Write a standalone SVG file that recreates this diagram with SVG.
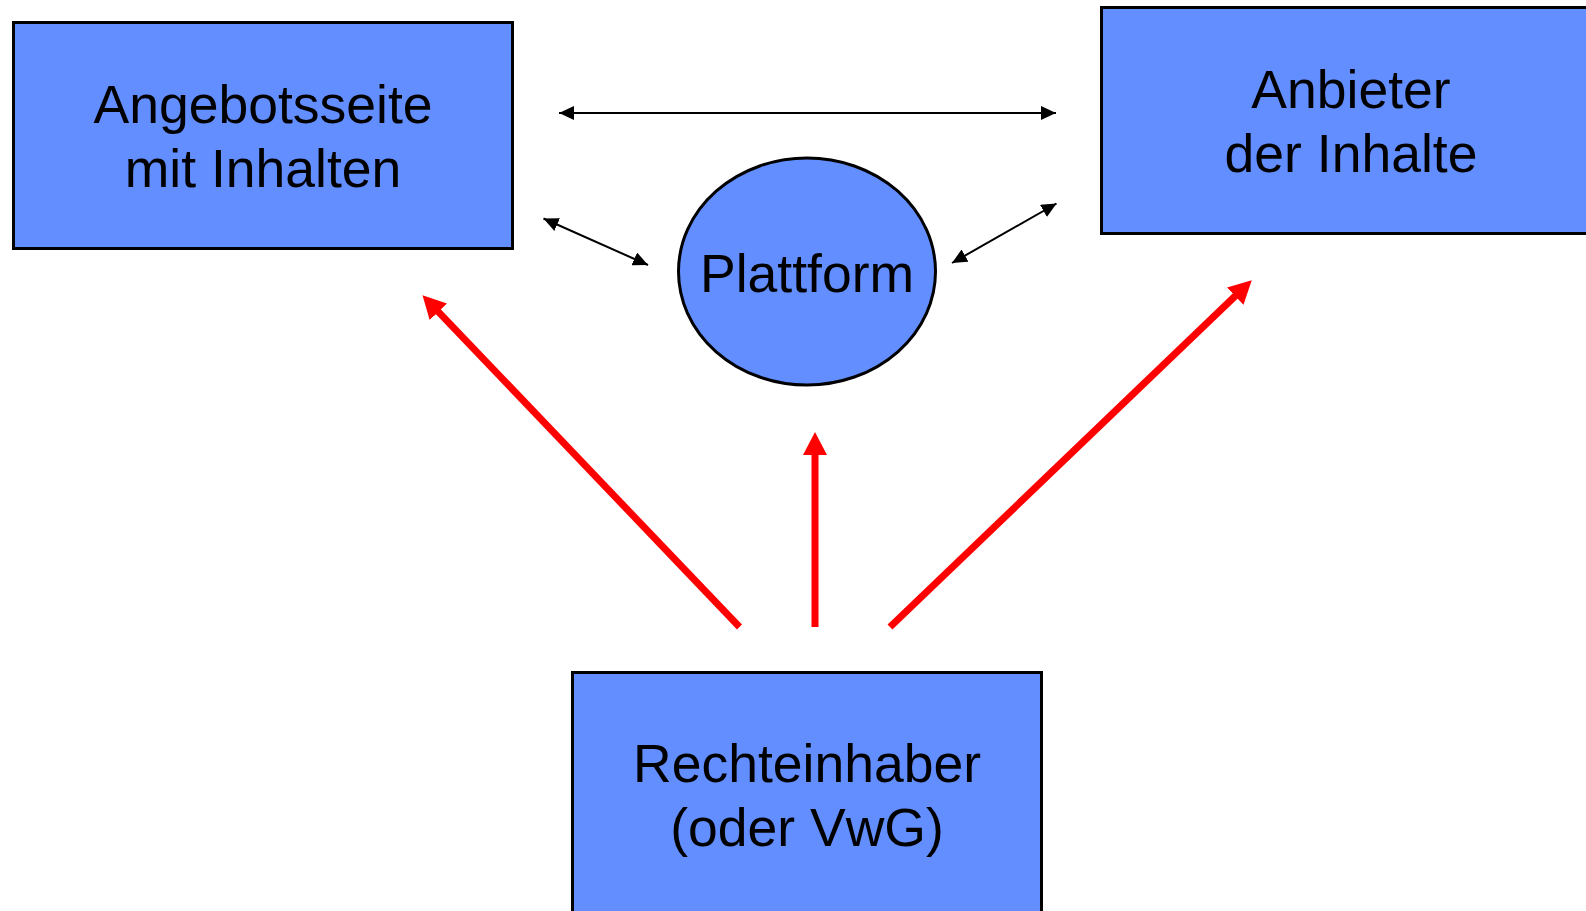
<svg xmlns="http://www.w3.org/2000/svg" width="1586" height="911" viewBox="0 0 1586 911">
<style>
.box{fill:#638EFF;stroke:#000;stroke-width:3}
.lbl{font-family:"Liberation Sans",Arial,sans-serif;font-size:53.5px;fill:#000;text-anchor:middle}
.blk{stroke:#000;stroke-width:2;fill:none}
.red{stroke:#FF0000;stroke-width:7;fill:none}
</style>
<defs>
<marker id="bh" markerUnits="userSpaceOnUse" markerWidth="16" markerHeight="14" refX="15" refY="7" orient="auto-start-reverse" viewBox="0 0 16 14">
<path d="M0,0 L15,7 L0,14 Z" fill="#000"/>
</marker>
<marker id="rh" markerUnits="userSpaceOnUse" markerWidth="24" markerHeight="24" refX="1" refY="12" orient="auto" viewBox="0 0 24 24">
<path d="M0,0 L23,12 L0,24 Z" fill="#FF0000"/>
</marker>
</defs>
<rect width="1586" height="911" fill="#fff"/>
<g id="angebotsseite">
<rect class="box" x="13.5" y="22.5" width="499" height="226"/>
<text class="lbl" x="263" y="123">Angebotsseite</text>
<text class="lbl" x="263" y="187">mit Inhalten</text>
</g>
<g id="anbieter">
<rect class="box" x="1101.5" y="7.5" width="500" height="226"/>
<text class="lbl" x="1351" y="108">Anbieter</text>
<text class="lbl" x="1351" y="172">der Inhalte</text>
</g>
<g id="plattform">
<ellipse class="box" cx="807" cy="271.5" rx="128.5" ry="113.5" stroke-width="2.5"/>
<text class="lbl" x="807" y="292">Plattform</text>
</g>
<g id="rechteinhaber">
<rect class="box" x="572.5" y="672.5" width="469" height="250"/>
<text class="lbl" x="807" y="782">Rechteinhaber</text>
<text class="lbl" x="807" y="846">(oder VwG)</text>
</g>
<g id="connectors">
<line class="blk" x1="559" y1="113" x2="1056" y2="113" marker-start="url(#bh)" marker-end="url(#bh)"/>
<line class="blk" x1="543.5" y1="218.5" x2="648" y2="265" marker-start="url(#bh)" marker-end="url(#bh)"/>
<line class="blk" x1="1056.5" y1="203.5" x2="952" y2="263" marker-start="url(#bh)" marker-end="url(#bh)"/>
<line class="red" x1="739.5" y1="627" x2="437.7" y2="311.1" marker-end="url(#rh)"/>
<line class="red" x1="815" y1="627" x2="815" y2="454" marker-end="url(#rh)"/>
<line class="red" x1="890" y1="627" x2="1235.9" y2="295.4" marker-end="url(#rh)"/>
</g>
</svg>
